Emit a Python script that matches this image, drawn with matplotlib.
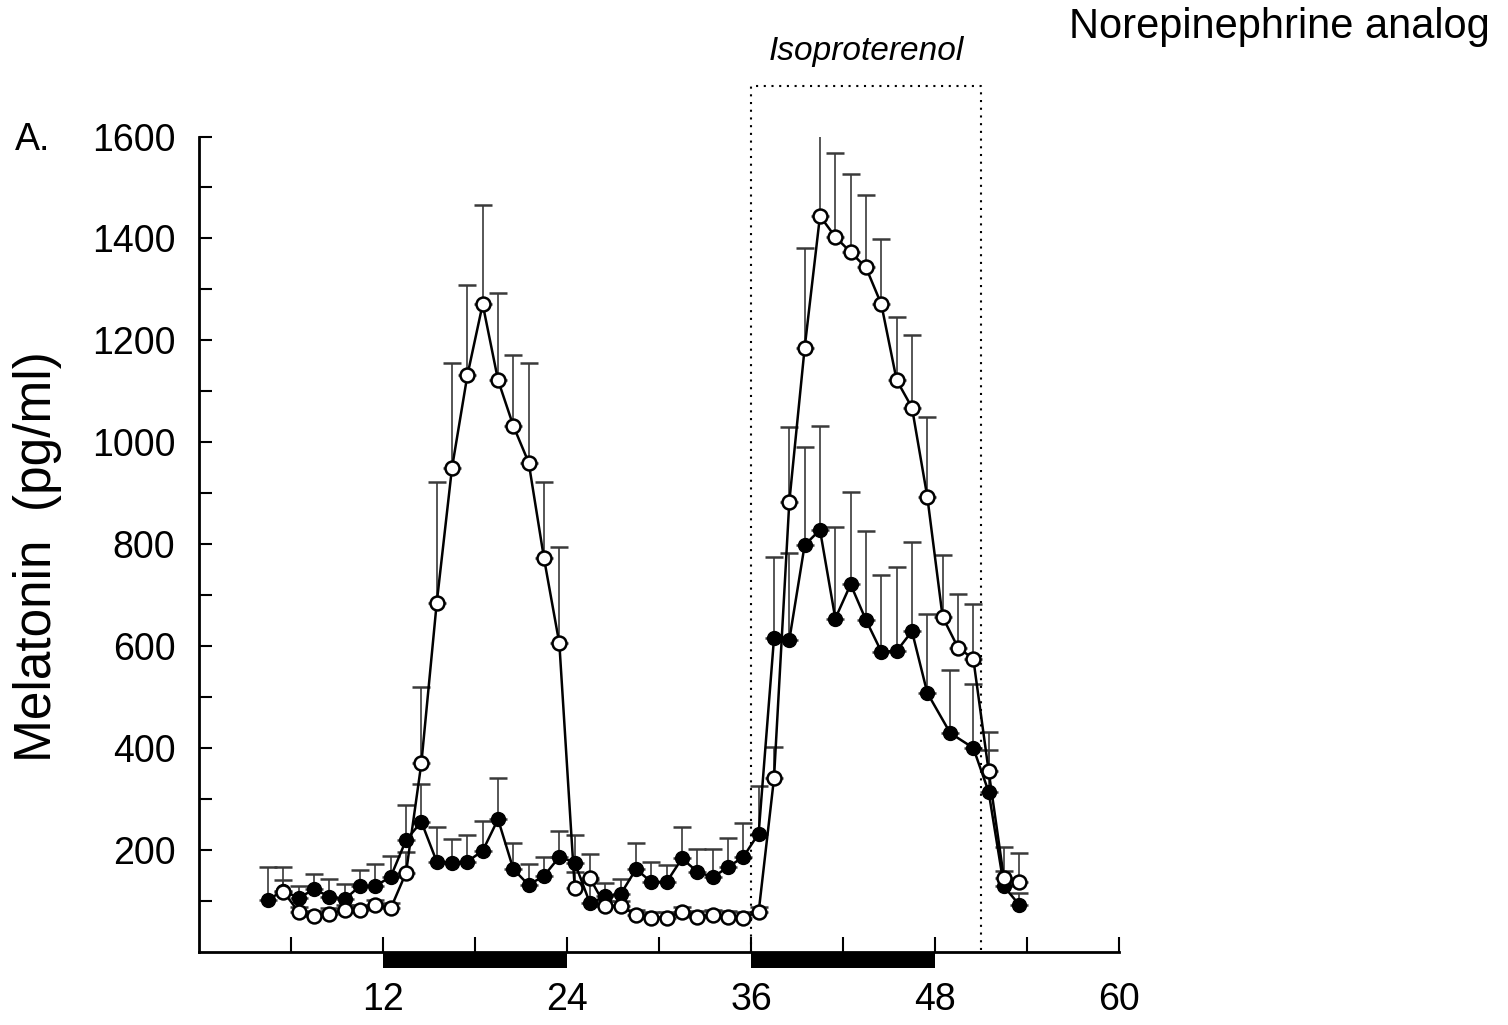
import numpy as np
import matplotlib.pyplot as plt

plt.rcParams['font.family'] = ['Liberation Sans', 'DejaVu Sans']

# control (filled circles)
hours_ctrl = [4.5, 5.5, 6.5, 7.5, 8.5, 9.5, 10.5, 11.5, 12.5, 13.5, 14.5, 15.5,
              16.5, 17.5, 18.5, 19.5, 20.5, 21.5, 22.5, 23.5, 24.5, 25.5, 26.5,
              27.5, 28.5, 29.5, 30.5, 31.5, 32.5, 33.5, 34.5, 35.5, 36.5, 37.5,
              38.5, 39.5, 40.5, 41.5, 42.5, 43.5, 44.5, 45.5, 46.5, 47.5, 49.0,
              50.5, 51.5, 52.5, 53.5]
mel_ctrl = [102, 120, 105, 123, 108, 103, 129, 129, 147, 219, 255, 177,
            175, 177, 198, 260, 162, 131, 149, 186, 175, 95, 109,
            113, 162, 137, 137, 183, 157, 146, 166, 186, 232, 615,
            612, 798, 828, 654, 721, 651, 589, 590, 629, 508, 429,
            400, 314, 128, 92]
sem_ctrl = [64, 20, 24, 29, 34, 30, 31, 44, 41, 69, 75, 68,
            46, 52, 59, 81, 52, 41, 36, 50, 54, 45, 25,
            29, 51, 40, 33, 62, 44, 55, 58, 66, 94, 160,
            170, 193, 204, 180, 181, 175, 151, 165, 176, 155, 124,
            125, 82, 30, 23]

# open circles
hours_open = [5.5, 6.5, 7.5, 8.5, 9.5, 10.5, 11.5, 12.5, 13.5, 14.5, 15.5,
              16.5, 17.5, 18.5, 19.5, 20.5, 21.5, 22.5, 23.5, 24.5, 25.5, 26.5,
              27.5, 28.5, 29.5, 30.5, 31.5, 32.5, 33.5, 34.5, 35.5, 36.5, 37.5,
              38.5, 39.5, 40.5, 41.5, 42.5, 43.5, 44.5, 45.5, 46.5, 47.5, 48.5,
              49.5, 50.5, 51.5, 52.5, 53.5]
mel_open = [118, 78, 70, 75, 82, 82, 92, 85, 155, 370, 684,
            950, 1131, 1271, 1122, 1032, 960, 772, 605, 126, 144, 90,
            90, 72, 67, 67, 78, 69, 72, 69, 67, 78, 340,
            883, 1185, 1444, 1403, 1373, 1343, 1271, 1122, 1068, 893, 657,
            597, 575, 355, 144, 137]
sem_open = [48, 10, 10, 10, 10, 10, 10, 10, 40, 150, 237,
            205, 178, 194, 170, 139, 195, 150, 190, 30, 48, 10,
            10, 10, 10, 10, 10, 10, 10, 10, 10, 10, 62,
            146, 197, 182, 164, 153, 142, 128, 123, 142, 156, 122,
            105, 107, 77, 62, 57]

dark_periods = [(12, 12), (36, 12)]
drug_window = (36, 51)

fig = plt.figure(figsize=(15.08, 10.25), dpi=100)
ax = fig.add_axes([0.132, 0.0715, 0.61, 0.7953])

ax.errorbar(hours_ctrl, mel_ctrl, yerr=[np.zeros(len(sem_ctrl)), sem_ctrl],
            fmt='none', ecolor='#3a3a3a', elinewidth=1.2, capsize=6.5,
            capthick=1.8, zorder=1)
ax.errorbar(hours_open, mel_open, yerr=[np.zeros(len(sem_open)), sem_open],
            fmt='none', ecolor='#3a3a3a', elinewidth=1.2, capsize=6.5,
            capthick=1.8, zorder=1)

ax.plot(hours_ctrl, mel_ctrl, '-o', color='black', lw=1.8, ms=10,
        mfc='black', mec='black', zorder=3)
ax.plot(hours_open, mel_open, '-o', color='black', lw=1.8, ms=10,
        mfc='white', mec='black', mew=1.8, zorder=4)

# lights-off bars under the axis
ax.broken_barh(dark_periods, (-32, 32), facecolors='black', clip_on=False, zorder=5)

# isoproterenol window
x0, x1 = drug_window
ax.plot([x0, x0, x1, x1], [0, 1700, 1700, 0], color='black', lw=1.5,
        linestyle=(0, (1, 2.7)), clip_on=False, zorder=2)
ax.text((x0 + x1) / 2, 1767, 'Isoproterenol', style='italic', fontsize=24,
        ha='center', va='center', clip_on=False)

ax.set_xlim(0, 60)
ax.set_ylim(0, 1600)

ax.set_xticks(np.arange(6, 61, 6))
ax.set_xticklabels([str(t) if t % 12 == 0 else '' for t in range(6, 61, 6)])
ax.set_yticks(np.arange(100, 1601, 100))
ax.set_yticklabels([str(t) if t % 200 == 0 else '' for t in range(100, 1601, 100)])

ax.tick_params(axis='y', direction='in', length=9, width=1.5, labelsize=27, pad=17)
ax.tick_params(axis='x', direction='in', length=11, width=1.5, labelsize=27, pad=22)

for s in ['top', 'right']:
    ax.spines[s].set_visible(False)
for s in ['left', 'bottom']:
    ax.spines[s].set_linewidth(2)

fig.text(38 / 1508, 0.4566, 'Melatonin  (pg/ml)', rotation=90, fontsize=37,
         ha='center', va='center')
fig.text(33 / 1508, 1 - 140 / 1025, 'A.', fontsize=27, ha='center', va='center')
fig.text(1490 / 1508, 1 - 27 / 1025, 'Norepinephrine analog', fontsize=30,
         ha='right', va='center')

fig.savefig('out.png', dpi=100)
